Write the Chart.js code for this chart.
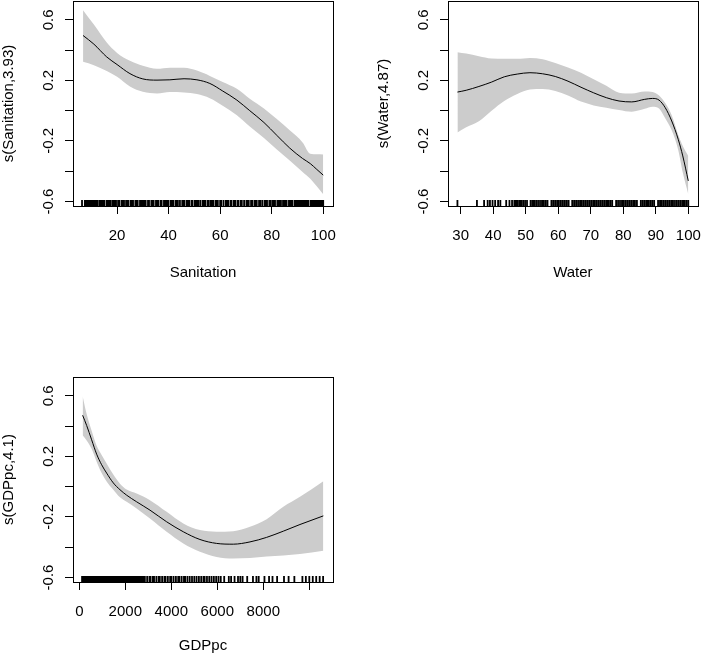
<!DOCTYPE html>
<html>
<head>
<meta charset="utf-8">
<script src="https://cdn.jsdelivr.net/npm/chart.js@4.4.1/dist/chart.umd.min.js"></script>
<style>
  body { margin: 0; background: #fff; }
  #wrap { position: relative; width: 714px; height: 659px; }
  canvas { position: absolute; }
</style>
</head>
<body>
<div id="wrap">
  <canvas id="san" width="357" height="330" style="left:0;top:0"></canvas>
  <canvas id="wat" width="357" height="330" style="left:357px;top:0"></canvas>
  <canvas id="gdp" width="357" height="329" style="left:0;top:330px"></canvas>
</div>
<script>
// shared y axis
const yTicks = [-0.6, -0.4, -0.2, 0, 0.2, 0.4, 0.6];
const yLabels = [-0.6, -0.2, 0.2, 0.6];

// Sanitation
const sanX = [6.8, 11, 16, 20, 25, 30, 35.5, 40.5, 46, 51, 56, 61, 66.5, 71.5, 77, 82, 87, 92, 95, 97.5, 100];
const sanFit = [0.497, 0.44, 0.355, 0.305, 0.245, 0.21, 0.202, 0.204, 0.211, 0.204, 0.18, 0.13, 0.07, 0.0, -0.078, -0.163, -0.247, -0.316, -0.35, -0.388, -0.426];
const sanUp = [0.664, 0.569, 0.45, 0.382, 0.33, 0.297, 0.277, 0.284, 0.284, 0.265, 0.23, 0.19, 0.145, 0.079, 0.015, -0.055, -0.13, -0.21, -0.285, -0.288, -0.29];
const sanLo = [0.323, 0.301, 0.262, 0.224, 0.16, 0.125, 0.114, 0.123, 0.12, 0.11, 0.083, 0.033, -0.03, -0.104, -0.18, -0.257, -0.33, -0.405, -0.45, -0.5, -0.552];
const sanTicks = [20, 40, 60, 80, 100];
const sanTickLabels = ['20', '40', '60', '80', '100'];
const sanRug = [6.4, 7.5, 8.0, 8.4, 8.9, 9.3, 9.8, 10.2, 10.7, 11.1, 11.6, 12.0, 12.5, 13.3, 13.8, 14.2, 14.7, 15.1, 16.0, 16.5, 16.9, 17.4,
  18.2, 18.7, 19.1, 19.6, 20.4, 20.9, 21.8, 22.2, 22.7, 23.5, 24.0, 24.4, 25.3, 25.8, 26.2, 27.1, 27.5, 28.0, 28.9, 29.3, 29.8, 30.2,
  30.7, 31.1, 32.0, 32.4, 33.3, 33.8, 34.2, 35.1, 35.6, 36.0, 36.9, 37.3, 38.2, 38.7, 39.1, 39.6, 40.0, 40.9, 41.3, 41.8, 42.7, 43.1,
  43.6, 44.4, 45.3, 45.8, 46.2, 47.1, 47.6, 48.0, 48.9, 49.3, 50.2, 50.7, 51.1, 51.6, 52.4, 53.3, 53.8, 54.2, 55.1, 55.6, 56.4, 56.9,
  57.3, 58.2, 58.7, 59.1, 60.0, 60.4, 61.3, 62.2, 62.7, 63.1, 64.0, 64.4, 65.3, 65.8, 66.7, 67.1, 68.0, 68.4, 69.3, 70.2, 70.7, 71.1,
  72.0, 72.4, 73.3, 73.8, 74.2, 75.1, 75.6, 76.4, 77.3, 77.8, 78.2, 79.1, 79.6, 80.4, 80.9, 81.3, 82.2, 82.7, 83.1, 83.6, 84.4, 84.9,
  85.3, 85.8, 86.7, 87.1, 87.6, 88.0, 88.9, 89.3, 89.8, 90.2, 90.7, 91.1, 91.6, 92.0, 92.4, 92.9, 93.3, 93.8, 94.2, 95.1, 95.6, 96.0,
  96.4, 96.9, 97.3, 97.8, 98.2, 98.7, 99.1, 99.6, 100];

// Water
const watX = [29, 31.7, 35.6, 39.5, 43.4, 47.4, 51.3, 55.2, 59.1, 63, 67, 70.9, 74.8, 78.7, 82.6, 86.6, 89, 91, 92.9, 94.9, 96.9, 98.3, 100];
const watFit = [0.123, 0.135, 0.16, 0.189, 0.224, 0.242, 0.251, 0.244, 0.226, 0.195, 0.155, 0.118, 0.086, 0.064, 0.058, 0.075, 0.081, 0.07, 0.02, -0.068, -0.189, -0.299, -0.464];
const watUp = [0.387, 0.378, 0.36, 0.345, 0.343, 0.343, 0.349, 0.34, 0.315, 0.285, 0.25, 0.207, 0.165, 0.119, 0.114, 0.127, 0.123, 0.1, 0.05, -0.03, -0.16, -0.233, -0.299];
const watLo = [-0.145, -0.11, -0.07, 0.0, 0.064, 0.11, 0.14, 0.143, 0.13, 0.1, 0.06, 0.035, 0.02, 0.005, -0.007, 0.012, 0.026, 0.015, -0.05, -0.13, -0.26, -0.409, -0.552];
const watTicks = [30, 40, 50, 60, 70, 80, 90, 100];
const watTickLabels = ['30', '40', '50', '60', '70', '80', '90', '100'];
const watRug = [29, 35, 37.2, 38.3, 39, 39.8, 40.6, 41.5, 42.2, 44, 45, 45.8, 46.5, 47, 47.5, 48.1, 48.6, 49.2, 49.8, 50.4, 51.5, 52.1,
  52.6, 53.2, 53.8, 54.4, 55, 55.5, 56.1, 56.7, 57.9, 58.5, 59.1, 59.7, 60.2, 60.8, 61.4, 62, 62.6, 63.2, 64.3, 64.9, 65.5, 66.1, 66.7,
  67.2, 67.8, 68.4, 69, 69.6, 70.2, 70.8, 71.3, 71.9, 72.5, 73.1, 73.7, 74.3, 74.9, 75.4, 76, 76.6, 77.8, 78.4, 79, 79.6, 80.1, 80.7,
  81.3, 81.9, 82.5, 83.1, 83.6, 84.2, 85.4, 86, 86.6, 87.2, 87.7, 88.3, 88.9, 89.5, 90.7, 91.3, 91.8, 92.4, 93, 93.6, 94.2, 94.8, 95.3,
  95.9, 96.5, 97.1, 97.7, 98.3, 98.8, 99.4, 100];

// GDPpc
const gdpX = [145, 319, 536, 754, 971, 1188, 1478, 1768, 2058, 2493, 3072, 3797, 4522, 5246, 5971, 6696, 7420, 8145, 8870, 9594, 10609];
const gdpFit = [0.472, 0.405, 0.31, 0.215, 0.145, 0.09, 0.025, -0.02, -0.056, -0.1, -0.155, -0.232, -0.298, -0.349, -0.375, -0.38, -0.365, -0.335, -0.294, -0.25, -0.193];
const gdpUp = [0.598, 0.48, 0.37, 0.27, 0.21, 0.153, 0.08, 0.02, -0.019, -0.045, -0.089, -0.166, -0.243, -0.287, -0.298, -0.294, -0.265, -0.215, -0.133, -0.067, 0.036];
const gdpLo = [0.34, 0.305, 0.25, 0.165, 0.09, 0.035, -0.02, -0.07, -0.1, -0.144, -0.21, -0.298, -0.375, -0.43, -0.464, -0.475, -0.472, -0.462, -0.455, -0.445, -0.424];
const gdpTicks = [0, 2000, 4000, 6000, 8000, 10000];
const gdpTickLabels = ['0', '2000', '4000', '6000', '8000', ''];
const gdpRug = [120, 160, 200, 250, 290, 330, 380, 420, 470, 510, 560, 600, 650, 690, 740, 780, 830, 870, 920, 960, 1010, 1050, 1100,
  1140, 1190, 1230, 1280, 1320, 1370, 1410, 1460, 1500, 1550, 1590, 1640, 1680, 1730, 1770, 1820, 1860, 1910, 1950, 2000, 2040, 2090,
  2130, 2180, 2220, 2270, 2310, 2360, 2400, 2450, 2490, 2540, 2580, 2630, 2670, 2720, 2760, 2810, 2850, 2950, 3050, 3100, 3200, 3250,
  3350, 3450, 3500, 3600, 3700, 3750, 3850, 3950, 4000, 4100, 4200, 4300, 4350, 4450, 4550, 4600, 4700, 4800, 4900, 5000, 5100, 5200,
  5300, 5400, 5450, 5550, 5650, 5750, 5850, 5950, 6050, 6150, 6300, 6500, 6600, 6750, 6900, 7000, 7100, 7300, 7550, 7700, 7800, 8050,
  8250, 8400, 8600, 8900, 9100, 9350, 9700, 9850, 10000, 10150, 10300, 10450, 10600];

Chart.defaults.font.family = '"Liberation Sans", Arial, Helvetica, sans-serif';
Chart.defaults.font.size = 15;
Chart.defaults.color = '#000';

// box, rug and the rotated y labels, like base R draws them
const frame = {
  id: 'frame',
  afterDatasetsDraw(chart, args, opts) {
    const { ctx, chartArea: a, scales: { x, y } } = chart;
    ctx.save();
    ctx.strokeStyle = '#000';
    ctx.lineWidth = 1.8;
    ctx.beginPath();
    opts.rug.forEach(v => {
      const px = x.getPixelForValue(v);
      ctx.moveTo(px, a.bottom);
      ctx.lineTo(px, a.bottom - 6);
    });
    ctx.stroke();
    ctx.lineWidth = 1;
    ctx.strokeRect(Math.round(a.left) + 0.5, Math.round(a.top) + 0.5, Math.round(a.right - a.left), Math.round(a.bottom - a.top));
    ctx.fillStyle = '#000';
    ctx.font = '15px "Liberation Sans", Arial, sans-serif';
    ctx.textAlign = 'center';
    ctx.textBaseline = 'alphabetic';
    yLabels.forEach(v => {
      ctx.save();
      ctx.translate(a.left - 20, y.getPixelForValue(v));
      ctx.rotate(-Math.PI / 2);
      ctx.fillText(String(v), 0, 0);
      ctx.restore();
    });
    ctx.restore();
  }
};

function drawPanel(id, p) {
  const pts = arr => p.x.map((x, i) => ({ x: x, y: arr[i] }));
  // Chart.js paints the last dataset first, so the fitted line goes first to end up on top
  return new Chart(document.getElementById(id), {
    type: 'line',
    data: {
      datasets: [
        { data: pts(p.fit), borderColor: '#000', borderWidth: 1, fill: false, pointRadius: 0, cubicInterpolationMode: 'monotone' },
        { data: pts(p.up), borderWidth: 0, backgroundColor: '#cccccc', fill: '+1', pointRadius: 0, cubicInterpolationMode: 'monotone' },
        { data: pts(p.lo), borderWidth: 0, fill: false, pointRadius: 0, cubicInterpolationMode: 'monotone' }
      ]
    },
    options: {
      responsive: false,
      animation: false,
      events: [],
      layout: { padding: p.pad },
      plugins: {
        legend: { display: false },
        tooltip: { enabled: false },
        frame: { rug: p.rug }
      },
      scales: {
        x: {
          type: 'linear',
          min: p.xMin,
          max: p.xMax,
          afterBuildTicks: s => { s.ticks = p.ticks.map(v => ({ value: v })); },
          afterFit: s => { s.height = p.xH; },
          ticks: { autoSkip: false, maxRotation: 0, padding: 13, callback: (v, i) => p.labels[i] },
          grid: { drawOnChartArea: false, tickLength: 8, color: '#000' },
          border: { display: false },
          title: { display: true, text: p.xTitle, padding: { top: 0, bottom: p.xTitlePad } }
        },
        y: {
          min: -0.63,
          max: 0.725,
          afterBuildTicks: s => { s.ticks = yTicks.map(v => ({ value: v })); },
          afterFit: s => { s.width = p.yW; },
          ticks: { display: false },
          grid: { drawOnChartArea: false, tickLength: 8, color: '#000' },
          border: { display: false },
          title: { display: true, text: p.yTitle, padding: { top: p.yTitlePad, bottom: 0 } }
        }
      }
    },
    plugins: [frame]
  });
}

drawPanel('san', {
  x: sanX, fit: sanFit, up: sanUp, lo: sanLo, rug: sanRug, ticks: sanTicks, labels: sanTickLabels,
  xMin: 2.9, xMax: 103.8, xTitle: 'Sanitation', yTitle: 's(Sanitation,3.93)',
  pad: { left: 0, top: 1, right: 24, bottom: 0 }, xH: 124, yW: 73, xTitlePad: 48, yTitlePad: 0
});

drawPanel('wat', {
  x: watX, fit: watFit, up: watUp, lo: watLo, rug: watRug, ticks: watTicks, labels: watTickLabels,
  xMin: 26.1, xMax: 102.9, xTitle: 'Water', yTitle: 's(Water,4.87)',
  pad: { left: 0, top: 1, right: 5, bottom: 0 }, xH: 124, yW: 91, xTitlePad: 48, yTitlePad: 18
});

drawPanel('gdp', {
  x: gdpX, fit: gdpFit, up: gdpUp, lo: gdpLo, rug: gdpRug, ticks: gdpTicks, labels: gdpTickLabels,
  xMin: -274, xMax: 11030, xTitle: 'GDPpc', yTitle: 's(GDPpc,4.1)',
  pad: { left: 0, top: 47, right: 24, bottom: 0 }, xH: 77, yW: 73, xTitlePad: 4, yTitlePad: 0
});
</script>
</body>
</html>
